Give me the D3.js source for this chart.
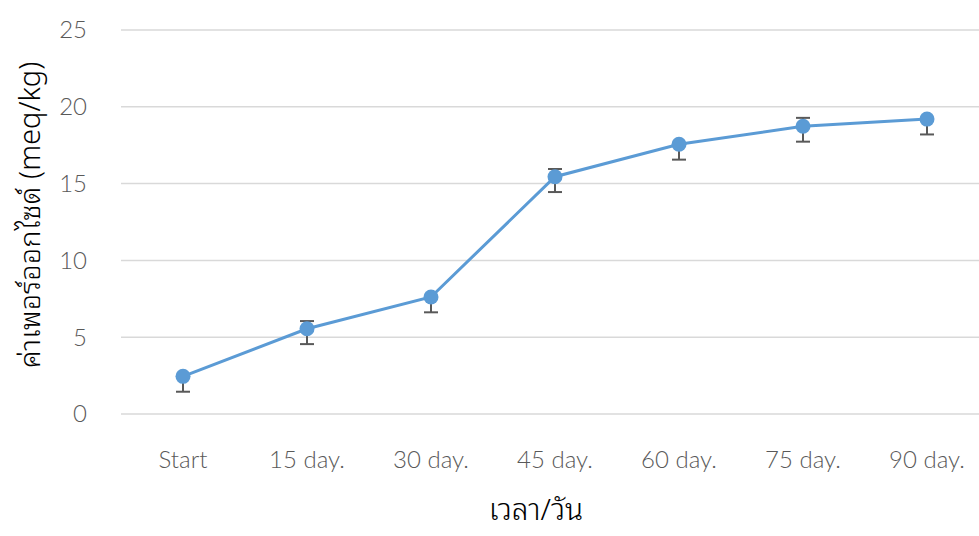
<!DOCTYPE html>
<html><head><meta charset="utf-8">
<script src="https://cdn.jsdelivr.net/npm/d3@7"></script>
<style>body{margin:0;background:#fff}</style>
</head><body>
<svg id="c" width="979" height="536"></svg>
<script>
const categories = ["Start","15 day.","30 day.","45 day.","60 day.","75 day.","90 day."];
const values = [2.45, 5.55, 7.62, 15.45, 17.56, 18.73, 19.2];
const errPlus = [0, 0.5, 0, 0.5, 0, 0.55, 0];
const errMinus = [1.0, 1.0, 1.0, 1.0, 1.0, 1.0, 1.0];
const yTicks = [0,5,10,15,20,25];
const yTitle = "ค่าเพอร์ออกไซด์ (meq/kg)";
const xTitle = "เวลา/วัน";

(function(){
const svg = d3.select("#c");
const pL = 121, pR = 989, pT = 30, pB = 414;
const x = d3.scalePoint().domain(categories).range([pL, pR]).padding(0.5);
const y = d3.scaleLinear().domain([0,25]).range([pB, pT]);
const thai = "'Noto Sans Thai Looped', 'Noto Sans', sans-serif";

svg.append("g").selectAll("line").data(yTicks).join("line")
  .attr("x1", pL).attr("x2", 979)
  .attr("y1", d=>y(d)).attr("y2", d=>y(d))
  .attr("stroke", "#d9d9d9").attr("stroke-width", 1.5);

svg.append("g").selectAll("text").data(yTicks).join("text")
  .attr("x", 87).attr("y", d=>y(d)).attr("dy","0.35em")
  .attr("text-anchor","end").attr("fill","#595959")
  .attr("font-family","Lato, 'Open Sans', sans-serif").attr("font-size", 24).attr("font-weight", 300)
  .text(d=>d);

svg.append("g").selectAll("text").data(categories).join("text")
  .attr("x", d=>x(d)).attr("y", 468)
  .attr("text-anchor","middle").attr("fill","#595959")
  .attr("font-family","Lato, 'Open Sans', sans-serif").attr("font-size", 24).attr("font-weight", 300)
  .text(d=>d);

const data = categories.map((c,i)=>({c, v:values[i], p:errPlus[i], m:errMinus[i]}));
const eb = svg.append("g").attr("stroke","#595959").attr("stroke-width",2);
data.forEach(d=>{
  const cx = x(d.c);
  eb.append("line").attr("x1",cx).attr("x2",cx).attr("y1",y(d.v+d.p)).attr("y2",y(d.v-d.m));
  eb.append("line").attr("x1",cx-7).attr("x2",cx+7).attr("y1",y(d.v-d.m)).attr("y2",y(d.v-d.m));
  if (d.p>0) eb.append("line").attr("x1",cx-7).attr("x2",cx+7).attr("y1",y(d.v+d.p)).attr("y2",y(d.v+d.p));
});

svg.append("path").datum(data)
  .attr("fill","none").attr("stroke","#5b9bd5").attr("stroke-width",3)
  .attr("d", d3.line().x(d=>x(d.c)).y(d=>y(d.v)));

svg.append("g").selectAll("circle").data(data).join("circle")
  .attr("cx", d=>x(d.c)).attr("cy", d=>y(d.v)).attr("r", 7.5)
  .attr("fill","#5b9bd5");

svg.append("text").attr("transform","translate(40,215) rotate(-90)")
  .attr("text-anchor","middle").attr("fill","#000")
  .attr("font-family",thai).attr("font-size",29).attr("font-weight",300)
  .text(yTitle);
svg.append("text").attr("x", 536).attr("y", 520)
  .attr("text-anchor","middle").attr("fill","#000")
  .attr("font-family",thai).attr("font-size",30).attr("font-weight",300)
  .text(xTitle);
})();
</script>
</body></html>
